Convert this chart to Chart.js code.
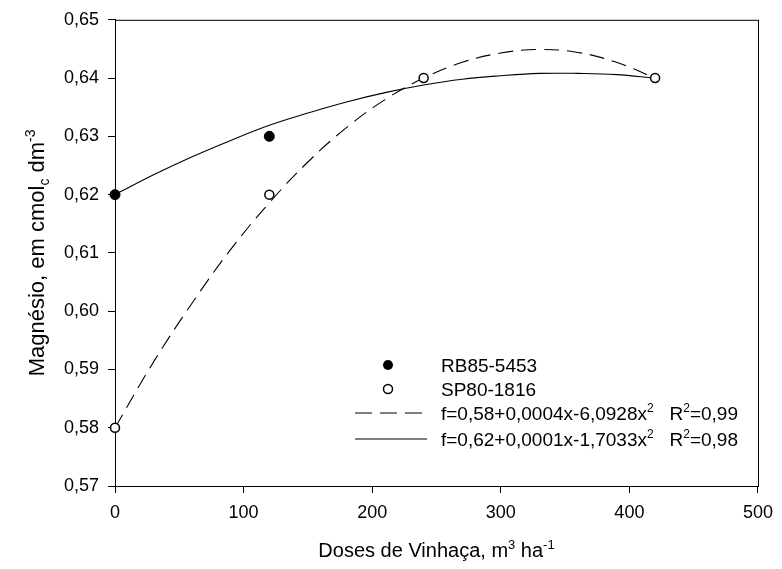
<!DOCTYPE html>
<html>
<head>
<meta charset="utf-8">
<script src="https://cdn.jsdelivr.net/npm/chart.js@4/dist/chart.umd.min.js"></script>
<style>
  html, body { margin: 0; padding: 0; background: #fff; }
  #wrap { width: 782px; height: 569px; }
</style>
</head>
<body>
<div id="wrap"><canvas id="c"></canvas></div>
<script>
// observed points
const dosesRB = [0, 120];
const valuesRB = [0.62, 0.63];
const dosesSP = [0, 120, 240, 420];
const valuesSP = [0.58, 0.62, 0.64, 0.64];

// fitted curves
const fitDoses = [0, 30, 60, 90, 120, 150, 180, 210, 240, 270, 300, 330, 360, 390, 420];
const fitSP = [0.580, 0.5913, 0.6014, 0.6106, 0.6186, 0.6256, 0.6315, 0.6363, 0.6400, 0.6427, 0.6443, 0.6449, 0.6444, 0.6427, 0.6400];
const fitRB = [0.620, 0.6234, 0.6265, 0.6293, 0.6319, 0.6340, 0.6359, 0.6375, 0.6388, 0.6398, 0.6404, 0.6408, 0.6408, 0.6406, 0.6400];

const xTicks = [0, 100, 200, 300, 400, 500];
const yTicks = [0.57, 0.58, 0.59, 0.60, 0.61, 0.62, 0.63, 0.64, 0.65];

const legendRows = [
  { kind: 'filled', text: [{ t: 'RB85-5453' }] },
  { kind: 'open', text: [{ t: 'SP80-1816' }] },
  { kind: 'dash', text: [{ t: 'f=0,58+0,0004x-6,0928x' }, { t: '2', sup: true }, { t: '   R' }, { t: '2', sup: true }, { t: '=0,99' }] },
  { kind: 'solid', text: [{ t: 'f=0,62+0,0001x-1,7033x' }, { t: '2', sup: true }, { t: '   R' }, { t: '2', sup: true }, { t: '=0,98' }] },
];

const FONT = '"Liberation Sans", Arial, sans-serif';
const pts = (xs, ys) => xs.map((x, i) => ({ x, y: ys[i] }));

function richWidth(ctx, segs, size) {
  let w = 0;
  segs.forEach(s => {
    ctx.font = `${(s.sup || s.sub) ? Math.round(size * 0.65) : size}px ${FONT}`;
    w += ctx.measureText(s.t).width;
  });
  return w;
}

function drawRich(ctx, segs, x, y, size, align) {
  let cx = align === 'center' ? x - richWidth(ctx, segs, size) / 2 : x;
  ctx.textBaseline = 'alphabetic';
  ctx.textAlign = 'left';
  segs.forEach(s => {
    const small = s.sup || s.sub;
    ctx.font = `${small ? Math.round(size * 0.65) : size}px ${FONT}`;
    const dy = s.sup ? -size * 0.42 : s.sub ? size * 0.22 : 0;
    ctx.fillText(s.t, cx, y + dy);
    cx += ctx.measureText(s.t).width;
  });
}

const decorations = {
  id: 'decorations',
  beforeDatasetsDraw(chart) {
    const { ctx, chartArea: a } = chart;
    ctx.save();
    ctx.strokeStyle = '#000';
    ctx.lineWidth = 1;
    ctx.strokeRect(a.left + 0.5, a.top + 0.5, a.right - a.left, a.bottom - a.top);
    ctx.restore();
  },
  afterDraw(chart) {
    const { ctx, chartArea: a } = chart;
    ctx.save();
    ctx.fillStyle = '#000';
    // axis titles
    drawRich(ctx, [{ t: 'Doses de Vinhaça, m' }, { t: '3', sup: true }, { t: ' ha' }, { t: '-1', sup: true }],
      (a.left + a.right) / 2, 557, 20, 'center');
    ctx.save();
    ctx.translate(44, (a.top + a.bottom) / 2);
    ctx.rotate(-Math.PI / 2);
    drawRich(ctx, [{ t: 'Magnésio, em cmol' }, { t: 'c', sub: true }, { t: ' dm' }, { t: '-3', sup: true }], 0, 0, 22, 'center');
    ctx.restore();

    // legend
    const mx = 388, tx = 441, rowY = [365, 389, 413, 439];
    legendRows.forEach((r, i) => {
      const y = rowY[i];
      ctx.strokeStyle = '#000';
      ctx.lineWidth = 1.2;
      if (r.kind === 'filled' || r.kind === 'open') {
        ctx.beginPath();
        ctx.arc(mx, y, r.kind === 'filled' ? 5 : 4.5, 0, Math.PI * 2);
        if (r.kind === 'filled') { ctx.fillStyle = '#000'; ctx.fill(); }
        else { ctx.fillStyle = '#fff'; ctx.fill(); ctx.lineWidth = 1.5; ctx.stroke(); }
      } else {
        ctx.beginPath();
        ctx.setLineDash(r.kind === 'dash' ? [17, 8] : []);
        ctx.moveTo(355, y);
        ctx.lineTo(r.kind === 'dash' ? 422 : 427, y);
        ctx.stroke();
        ctx.setLineDash([]);
      }
      ctx.fillStyle = '#000';
      drawRich(ctx, r.text, tx, y + 7, 19, 'left');
    });
    ctx.restore();
  }
};

new Chart(document.getElementById('c'), {
  type: 'scatter',
  data: {
    datasets: [
      {
        label: 'RB85-5453',
        data: pts(dosesRB, valuesRB),
        pointRadius: 5,
        pointBackgroundColor: '#000',
        pointBorderColor: '#000',
        pointBorderWidth: 1,
        showLine: false,
        order: 1,
      },
      {
        label: 'SP80-1816',
        data: pts(dosesSP, valuesSP),
        pointRadius: 4.5,
        pointBackgroundColor: '#fff',
        pointBorderColor: '#000',
        pointBorderWidth: 1.5,
        showLine: false,
        order: 0,
      },
      {
        label: 'fit SP80',
        data: pts(fitDoses, fitSP),
        showLine: true,
        borderColor: '#000',
        borderWidth: 1.1,
        borderDash: [15, 8],
        pointRadius: 0,
        tension: 0.4,
        order: 3,
      },
      {
        label: 'fit RB85',
        data: pts(fitDoses, fitRB),
        showLine: true,
        borderColor: '#000',
        borderWidth: 1.1,
        pointRadius: 0,
        tension: 0.4,
        order: 2,
      },
    ],
  },
  options: {
    responsive: true,
    maintainAspectRatio: false,
    animation: false,
    clip: false,
    layout: { padding: { left: 0, right: 14, top: 19, bottom: 0 } },
    plugins: { legend: { display: false }, tooltip: { enabled: false } },
    scales: {
      x: {
        type: 'linear',
        min: 0,
        max: 500,
        afterBuildTicks: s => { s.ticks = xTicks.map(v => ({ value: v })); },
        afterFit: s => { s.height = 83; },
        ticks: { color: '#000', font: { family: FONT, size: 18 }, padding: 9 },
        grid: { drawOnChartArea: false, tickLength: 7, color: '#000' },
        border: { color: '#000', width: 1 },
      },
      y: {
        min: 0.57,
        max: 0.65,
        afterBuildTicks: s => { s.ticks = yTicks.map(v => ({ value: v })); },
        afterFit: s => { s.width = 115; },
        ticks: {
          color: '#000',
          font: { family: FONT, size: 18 },
          padding: 9,
          callback: v => v.toFixed(2).replace('.', ','),
        },
        grid: { drawOnChartArea: false, tickLength: 7, color: '#000' },
        border: { color: '#000', width: 1 },
      },
    },
  },
  plugins: [decorations],
});
</script>
</body>
</html>
